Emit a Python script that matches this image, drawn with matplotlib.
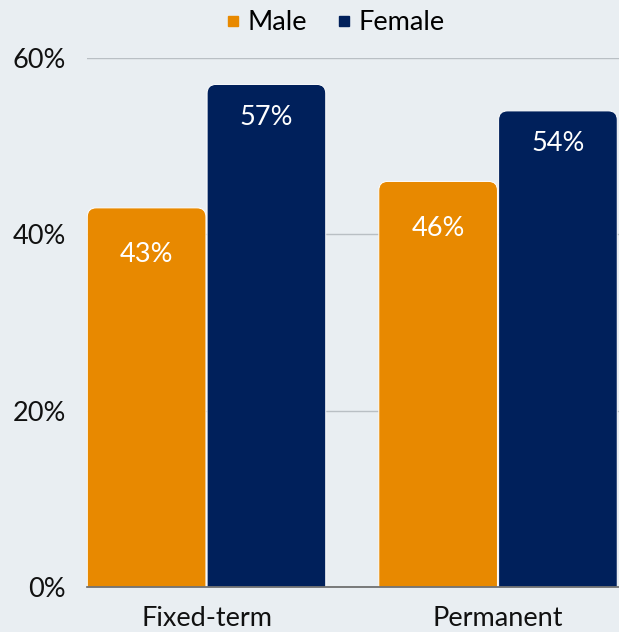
import matplotlib.pyplot as plt
from matplotlib.patches import PathPatch
from matplotlib.path import Path
import numpy as np

# Share of employees by contract type and gender (%)
categories = ["Fixed-term", "Permanent"]
male = [43, 46]
female = [57, 54]
series_names = ["Male", "Female"]

ORANGE = "#E88900"
NAVY = "#00205B"
BG = "#E9EEF2"

plt.rcParams['font.family'] = ['Lato', 'DejaVu Sans']
FS = 19.5

fig = plt.figure(figsize=(6.19, 6.32), dpi=100, facecolor=BG)
# axes box spans 0%..60% exactly
ax = fig.add_axes([87 / 619, 45 / 632, 532 / 619, 529 / 632])
ax.set_facecolor(BG)

x = np.arange(len(categories))
w = 0.407
ax.set_xlim(-0.41, 1.415)
ax.set_ylim(0, 60)

bars_m = ax.bar(x - w / 2 - 0.002, male, w, color=ORANGE, label=series_names[0])
bars_f = ax.bar(x + w / 2 + 0.002, female, w, color=NAVY, label=series_names[1])

# redraw each bar with rounded top corners
fig.canvas.draw()
px = ax.transData.transform([(0, 0), (1, 1)])
x_per_px = 1 / (px[1, 0] - px[0, 0])
y_per_px = 1 / (px[1, 1] - px[0, 1])
r_px = 9
rx, ry = r_px * x_per_px, r_px * y_per_px
for bars in (bars_m, bars_f):
    for b in bars:
        b.set_visible(False)
        bx, bw, bh = b.get_x(), b.get_width(), b.get_height()
        verts = [(bx, 0), (bx, bh - ry), (bx, bh), (bx + rx, bh),
                 (bx + bw - rx, bh), (bx + bw, bh), (bx + bw, bh - ry),
                 (bx + bw, 0), (bx, 0)]
        codes = [Path.MOVETO, Path.LINETO, Path.CURVE3, Path.CURVE3,
                 Path.LINETO, Path.CURVE3, Path.CURVE3, Path.LINETO, Path.CLOSEPOLY]
        ax.add_patch(PathPatch(Path(verts, codes), facecolor=b.get_facecolor(),
                               edgecolor="white", linewidth=0.7, zorder=3))

# value labels inside bars
for bars, vals, off in ((bars_m, male, 47), (bars_f, female, 33)):
    for b, v in zip(bars, vals):
        ax.text(b.get_x() + b.get_width() / 2, v - off * y_per_px, f"{v}%",
                ha="center", va="center", color="white", fontsize=FS, zorder=4)

ax.set_yticks([0, 20, 40, 60])
ax.set_yticklabels([f"{t}%" for t in [0, 20, 40, 60]], fontsize=FS)
ax.set_xticks(x)
ax.set_xticklabels(categories, fontsize=FS)
ax.tick_params(axis="both", length=0, colors="#111111")
ax.tick_params(axis="y", pad=15)
ax.tick_params(axis="x", pad=14)
ax.yaxis.grid(True, color="#B9BFC4", linewidth=1)
ax.set_axisbelow(True)
for s in ("left", "right", "top"):
    ax.spines[s].set_visible(False)
ax.spines["bottom"].set_color("#666666")
ax.spines["bottom"].set_linewidth(1.2)
ax.spines["bottom"].set_zorder(5)

h = [plt.Line2D([], [], marker="s", linestyle="", color=c, markersize=7.2) for c in (ORANGE, NAVY)]
fig.legend(h, series_names, loc="center", bbox_to_anchor=(0.539, 1 - 23 / 632), ncol=2,
           frameon=False, fontsize=FS, handletextpad=0.15, columnspacing=0.95,
           handlelength=0.8)

fig.savefig("out.png", dpi=100, facecolor=BG)
